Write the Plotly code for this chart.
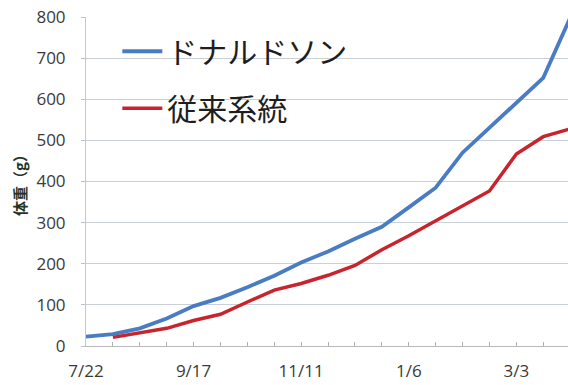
import plotly.graph_objects as go

dates = ["7/22", "8/5", "8/19", "9/3", "9/17", "10/1", "10/15", "10/29", "11/11",
         "11/25", "12/9", "12/23", "1/6", "1/20", "2/3", "2/17", "3/3", "3/17", "3/31"]
label_dates = ["7/22", "9/17", "11/11", "1/6", "3/3"]
donaldson = [23, 29, 43, 67, 97, 117, 143, 171, 203, 230, 261, 290, 337, 385, 470, 530, 590, 652, 798]
conventional = [None, 21, 31, 43, 62, 77, 107, 136, 152, 172, 196, 234, 268, 304, 340, 377, 467, 509, 528]

idx = list(range(len(dates)))
ticktext = [d if d in label_dates else "" for d in dates]

fig = go.Figure()
fig.add_trace(go.Scatter(x=idx, y=donaldson, mode="lines", name="ドナルドソン",
                         line=dict(color="#4a7cc3", width=3.8), legendgroup="a"))
fig.add_trace(go.Scatter(x=idx, y=conventional, mode="lines", name="従来系統",
                         line=dict(color="#c8242e", width=3.5), legendgroup="b",
                         connectgaps=False))

fig.add_shape(type="rect", xref="paper", yref="paper", x0=0.002, x1=0.606, y0=0.67, y1=0.985,
              fillcolor="white", line=dict(width=0), layer="between")

fig.update_layout(
    width=568, height=385,
    margin=dict(l=86, r=0, t=17, b=39),
    paper_bgcolor="white", plot_bgcolor="white",
    font=dict(family="Open Sans, Noto Sans CJK JP", color="#3a3a3a"),
    showlegend=True,
    legend=dict(x=0.065, y=0.975, xanchor="left", yanchor="top",
                bgcolor="rgba(0,0,0,0)", font=dict(size=30, family="Noto Sans CJK JP", color="#1e1e1e"),
                tracegroupgap=15, traceorder="grouped", itemwidth=40),
    xaxis=dict(range=[0, 17.92], tickmode="array", tickvals=idx, ticktext=ticktext,
               ticks="inside", ticklen=4, tickcolor="#b0b0b0", showgrid=False,
               showline=True, linecolor="#b8b8b8", linewidth=1,
               tickfont=dict(size=17, family="Open Sans", color="#3a3a3a"),
               ticklabelstandoff=10, zeroline=False),
    yaxis=dict(range=[0, 800], dtick=100, ticks="outside", ticklen=4, tickcolor="#c0c0c0",
               showgrid=True, gridcolor="#c9d0d6", gridwidth=1,
               showline=True, linecolor="#c8c8c8", linewidth=1,
               tickfont=dict(size=17, family="Open Sans", color="#3a3a3a"),
               ticklabelstandoff=12, zeroline=False,
               title=dict(text="<b>体重（g）</b>", font=dict(size=15, family="Noto Sans CJK JP", color="#1f351f"),
                          standoff=6)),
)

fig.write_html("out.html")
